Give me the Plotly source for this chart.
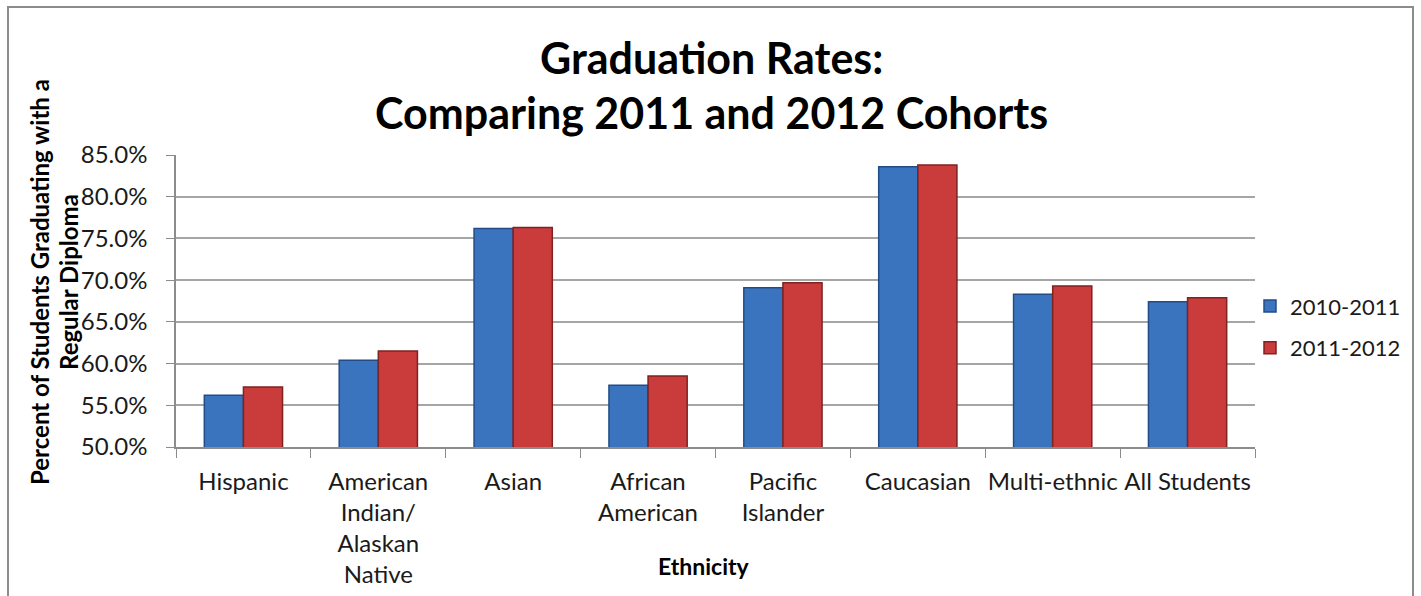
import plotly.graph_objects as go

# Graduation rate by ethnicity, two cohorts
categories = [
    "Hispanic",
    "American<br>Indian/<br>Alaskan<br>Native",
    "Asian",
    "African<br>American",
    "Pacific<br>Islander",
    "Caucasian",
    "Multi-ethnic",
    "All Students",
]
cohort_2011 = [0.562, 0.604, 0.762, 0.574, 0.691, 0.836, 0.683, 0.674]
cohort_2012 = [0.572, 0.615, 0.763, 0.585, 0.697, 0.838, 0.693, 0.679]
series_names = ["2010-2011", "2011-2012"]
title_lines = ["Graduation Rates:", "Comparing 2011 and 2012 Cohorts"]
y_title_lines = ["Percent of Students Graduating with a", "Regular Diploma"]
x_title = "Ethnicity"

FONT = "Lato, 'Open Sans', sans-serif"
W, H = 1421, 596
ML, MR, MT, MB = 176, 166, 155, 149
PW, PH = W - ML - MR, H - MT - MB


def px_to_paper_x(px):
    return (px - ML) / PW


def px_to_paper_y(py):
    return (H - MB - py) / PH


fig = go.Figure()
fig.add_trace(go.Bar(
    x=categories, y=cohort_2011, name=series_names[0], legendgroup="a",
    marker=dict(color="#3A74BF", line=dict(color="#234C85", width=1.5)),
))
fig.add_trace(go.Bar(
    x=categories, y=cohort_2012, name=series_names[1], legendgroup="b",
    marker=dict(color="#C93C3B", line=dict(color="#7E2222", width=1.5)),
))

# outer chart border
fig.add_shape(
    type="rect", xref="paper", yref="paper",
    x0=px_to_paper_x(8), x1=px_to_paper_x(1413),
    y0=px_to_paper_y(600), y1=px_to_paper_y(7),
    line=dict(color="#8C8C8C", width=2), fillcolor="rgba(0,0,0,0)", layer="below",
)

# two-line chart title
for text, py in zip(title_lines, [58, 112]):
    fig.add_annotation(
        text=f"<b>{text}</b>", xref="paper", yref="paper",
        x=px_to_paper_x(711), y=px_to_paper_y(py), xanchor="center", yanchor="middle",
        showarrow=False, font=dict(family=FONT, size=43, color="#000000"),
    )

# rotated two-line y axis title
for text, px in zip(y_title_lines, [39, 68]):
    fig.add_annotation(
        text=f"<b>{text}</b>", xref="paper", yref="paper", textangle=-90,
        x=px_to_paper_x(px), y=px_to_paper_y(282), xanchor="center", yanchor="middle",
        showarrow=False, font=dict(family=FONT, size=24, color="#000000"),
    )

# x axis title placed below the multi-line tick labels
fig.add_annotation(
    text=f"<b>{x_title}</b>", xref="paper", yref="paper",
    x=px_to_paper_x(704), y=px_to_paper_y(566), xanchor="center", yanchor="middle",
    showarrow=False, font=dict(family=FONT, size=23, color="#000000"),
)

fig.update_layout(
    width=W, height=H,
    margin=dict(l=ML, r=MR, t=MT, b=MB, autoexpand=False),
    paper_bgcolor="white", plot_bgcolor="white",
    barmode="group", bargap=0.42, bargroupgap=0.0,
    font=dict(family=FONT, color="#1a1a1a", size=20),
    legend=dict(
        x=px_to_paper_x(1250), xanchor="left", y=0.41, yanchor="middle",
        font=dict(size=22, family=FONT, color="#1a1a1a"),
        bgcolor="rgba(0,0,0,0)", tracegroupgap=10, itemwidth=30,
    ),
    xaxis=dict(
        type="category", tickangle=0,
        tickson="boundaries", ticks="outside", ticklen=9, tickcolor="#8C8C8C",
        showline=True, linecolor="#8C8C8C", linewidth=1.5,
        tickfont=dict(size=24, family=FONT, color="#1a1a1a"),
        ticklabelstandoff=12,
        range=[-0.5, 7.5],
    ),
    yaxis=dict(
        range=[0.5, 0.85], dtick=0.05, tickformat=".1%",
        showgrid=True, gridcolor="#A6A6A6", gridwidth=1.5,
        showline=True, linecolor="#8C8C8C", linewidth=1.5,
        ticks="outside", ticklen=8, tickcolor="#8C8C8C",
        tickfont=dict(size=24, family=FONT, color="#1a1a1a"),
        ticklabelstandoff=14,
        zeroline=False,
    ),
)

fig.write_html("out.html")
